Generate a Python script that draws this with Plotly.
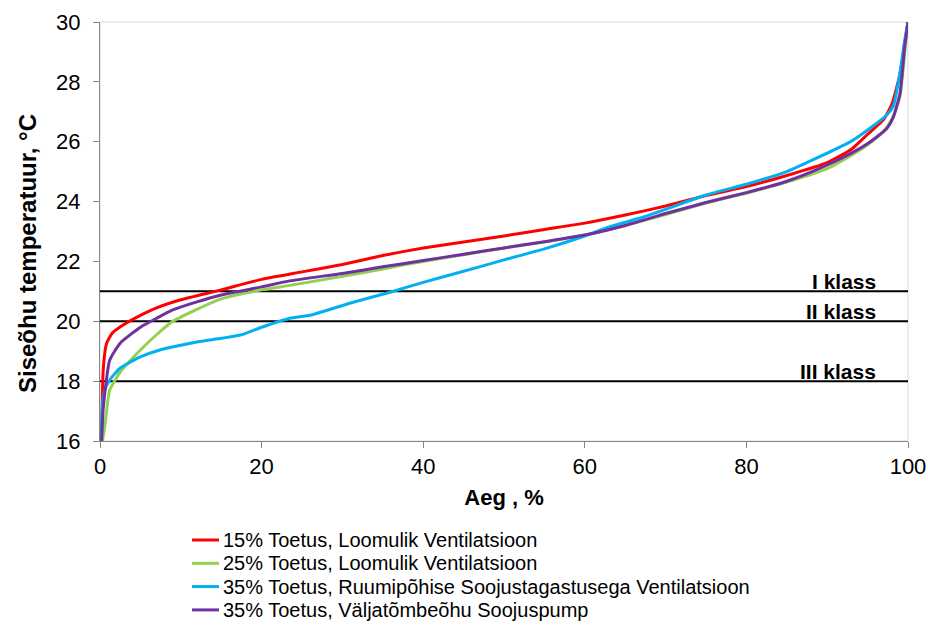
import plotly.graph_objects as go

# Share of time (%) vs. indoor air temperature (°C), sorted duration curves
red_x = [0.2, 0.4, 0.8, 1.5, 3, 5, 7, 10, 15, 20, 25, 30, 35, 40, 45, 50, 55, 60, 65, 70, 75, 80, 85, 90, 93, 95, 97, 98, 99, 99.5, 100]
red_y = [16.0, 18.4, 19.25, 19.6, 19.9, 20.2, 20.45, 20.72, 21.05, 21.4, 21.65, 21.9, 22.2, 22.45, 22.65, 22.85, 23.07, 23.28, 23.55, 23.85, 24.2, 24.5, 24.87, 25.3, 25.75, 26.25, 26.75, 27.25, 28.25, 29.1, 30.0]

green_x = [0.3, 0.6, 1.2, 2.5, 5, 7, 9, 12, 15, 20, 23.5, 30, 35, 40, 45, 50, 55, 60, 65, 70, 75, 80, 85, 90, 93, 95, 97, 98, 99, 99.6, 100]
green_y = [16.0, 16.5, 17.7, 18.3, 19.04, 19.55, 20.0, 20.4, 20.75, 21.05, 21.2, 21.5, 21.75, 22.0, 22.22, 22.45, 22.65, 22.88, 23.2, 23.57, 23.95, 24.28, 24.65, 25.1, 25.55, 25.9, 26.35, 26.75, 27.5, 29.0, 30.0]

blue_x = [0.1, 0.3, 0.6, 1.2, 2.5, 5, 7.5, 10, 12.5, 15, 17.5, 20, 23.5, 26, 31, 36, 40, 45, 50, 55, 60, 63, 67.7, 70, 75, 80, 85, 89, 93, 95.3, 97.4, 98.2, 99, 99.6, 100]
blue_y = [16.0, 17.2, 17.7, 18.04, 18.44, 18.81, 19.05, 19.2, 19.33, 19.43, 19.55, 19.8, 20.1, 20.2, 20.61, 20.98, 21.3, 21.67, 22.05, 22.42, 22.85, 23.15, 23.52, 23.74, 24.22, 24.58, 25.0, 25.49, 26.02, 26.45, 26.9, 27.2, 28.3, 29.4, 30.0]

purple_x = [0.2, 0.4, 1.2, 2.5, 5, 7, 9, 12, 15, 20, 23.5, 30, 35, 40, 45, 50, 55, 60, 65, 70, 75, 80, 85, 89, 93, 95.3, 97.4, 98.2, 99, 99.6, 100]
purple_y = [16.0, 17.1, 18.7, 19.27, 19.8, 20.1, 20.38, 20.65, 20.88, 21.15, 21.35, 21.6, 21.82, 22.03, 22.24, 22.45, 22.66, 22.88, 23.2, 23.6, 23.97, 24.3, 24.68, 25.1, 25.62, 25.99, 26.45, 26.83, 27.6, 29.2, 30.0]

series_names = [
    "15% Toetus, Loomulik Ventilatsioon",
    "25% Toetus, Loomulik Ventilatsioon",
    "35% Toetus, Ruumipõhise Soojustagastusega Ventilatsioon",
    "35% Toetus, Väljatõmbeõhu Soojuspump",
]
series_colors = ["#FF0000", "#92D050", "#00B0F0", "#7030A0"]

# Indoor climate class thresholds
class_labels = ["I klass", "II klass", "III klass"]
class_limits = [21, 20, 18]

FONT = "Arial, Liberation Sans, sans-serif"
W, H = 928, 625
ML, MR, MT, MB = 100, 20, 22, 184
PW, PH = W - ML - MR, H - MT - MB


def px_to_paper(px, py):
    """Convert page pixel position to paper coordinates."""
    return (px - ML) / PW, (H - MB - py) / PH


fig = go.Figure()

# Class threshold lines (drawn first so curves sit on top)
for lim in class_limits:
    fig.add_trace(go.Scatter(x=[0, 100], y=[lim, lim], mode="lines",
                             line=dict(color="#000000", width=2),
                             showlegend=False, hoverinfo="skip"))

for xs, ys, name, col in zip([red_x, green_x, blue_x, purple_x],
                             [red_y, green_y, blue_y, purple_y],
                             series_names, series_colors):
    fig.add_trace(go.Scatter(x=xs, y=ys, mode="lines", name=name, showlegend=False,
                             line=dict(color=col, width=3, shape="spline", smoothing=0.5)))

for lab, lim in zip(class_labels, class_limits):
    fig.add_annotation(x=96.3, y=lim, xref="x", yref="y", text="<b>%s</b>" % lab,
                       showarrow=False, xanchor="right", yanchor="bottom",
                       yshift=-4, font=dict(family=FONT, size=21, color="#000000"))

# Legend below the chart: short coloured line + series name
for i, (name, col) in enumerate(zip(series_names, series_colors)):
    row_y = 540 + i * 23.3
    x0, yy = px_to_paper(192, row_y)
    x1, _ = px_to_paper(219, row_y)
    xt, _ = px_to_paper(221, row_y)
    fig.add_shape(type="line", xref="paper", yref="paper", x0=x0, x1=x1, y0=yy, y1=yy,
                  line=dict(color=col, width=3))
    fig.add_annotation(x=xt, y=yy, xref="paper", yref="paper", text=name,
                       showarrow=False, xanchor="left", yanchor="middle",
                       font=dict(family=FONT, size=20, color="#000000"))

# Vertical axis title
tx, ty = px_to_paper(28, 254)
fig.add_annotation(x=tx, y=ty, xref="paper", yref="paper", textangle=-90,
                   text="<b>Siseõhu temperatuur, °C</b>", showarrow=False,
                   xanchor="center", yanchor="middle",
                   font=dict(family=FONT, size=24, color="#000000"))

# Light frame around the plotting area
fig.add_shape(type="rect", xref="paper", yref="paper", x0=0, y0=0, x1=1, y1=1,
              line=dict(color="#D9D9D9", width=1), layer="below")

fig.update_layout(
    width=W, height=H,
    margin=dict(l=ML, r=MR, t=MT, b=MB),
    paper_bgcolor="white", plot_bgcolor="white",
    font=dict(family=FONT, color="#000000"),
    showlegend=False,
)

fig.update_xaxes(range=[0, 100], dtick=20, tick0=0, showgrid=False, zeroline=False,
                 showline=True, linecolor="#868686", linewidth=1, automargin=False,
                 ticks="outside", ticklen=6, tickcolor="#868686",
                 tickfont=dict(family=FONT, size=22),
                 title=dict(text="<b>Aeg , %</b>", font=dict(family=FONT, size=22), standoff=11))
fig.update_yaxes(range=[16, 30], dtick=2, tick0=16, showgrid=False, zeroline=False,
                 showline=True, linecolor="#868686", linewidth=1, automargin=False,
                 ticks="outside", ticklen=6, tickcolor="#868686", ticklabelstandoff=8,
                 tickfont=dict(family=FONT, size=22))

fig.write_html("out.html")
